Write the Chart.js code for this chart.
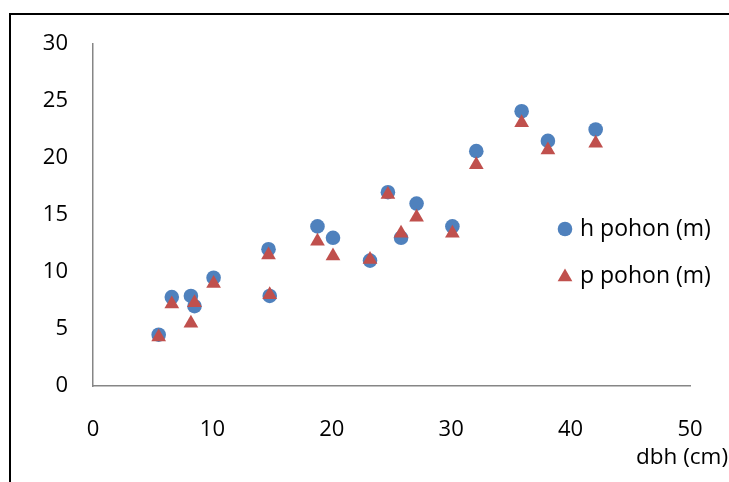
<!DOCTYPE html>
<html>
<head>
<meta charset="utf-8">
<script src="https://cdn.jsdelivr.net/npm/chart.js@4.4.0/dist/chart.umd.min.js"></script>
<style>
  html, body { margin: 0; padding: 0; background: #fff; }
  #wrap { position: relative; width: 729px; height: 482px; overflow: hidden; }
  canvas { display: block; }
</style>
</head>
<body>
<div id="wrap"><canvas id="c" width="729" height="482"></canvas></div>
<script>
// Data
const dbh    = [5.5, 6.6, 8.2, 8.5, 10.1, 14.7, 14.8, 18.8, 20.1, 23.2, 24.7, 25.8, 27.1, 30.1, 32.1, 35.9, 38.1, 42.1];
const hPohon = [4.5, 7.8, 7.9, 7.0, 9.5, 12.0, 7.9, 14.0, 13.0, 11.0, 17.0, 13.0, 16.0, 14.0, 20.6, 24.1, 21.5, 22.5];
const pPohon = [4.3, 7.2, 5.5, 7.3, 9.0, 11.5, 8.0, 12.7, 11.4, 11.1, 16.8, 13.4, 14.8, 13.4, 19.4, 23.1, 20.7, 21.3];
const seriesNames = ['h pohon (m)', 'p pohon (m)'];
const xTitle = 'dbh (cm)';
const xTicks = [0, 10, 20, 30, 40, 50];
const yTicks = [0, 5, 10, 15, 20, 25, 30];

const FONT = "'Open Sans', 'DejaVu Sans', sans-serif";
const BLUE = '#4F81BD';
const RED = '#C0504D';
const AXIS = '#868686';

const toPts = (xs, ys) => xs.map((x, i) => ({ x: x, y: ys[i] }));

const framePlugin = {
  id: 'frame',
  beforeDraw(chart) {
    const ctx = chart.ctx;
    ctx.save();
    ctx.fillStyle = '#fff';
    ctx.fillRect(0, 0, chart.width, chart.height);
    ctx.strokeStyle = '#000';
    ctx.lineWidth = 2;
    ctx.beginPath();
    ctx.moveTo(10, chart.height + 2);
    ctx.lineTo(10, 14);
    ctx.lineTo(chart.width + 2, 14);
    ctx.stroke();
    ctx.restore();
  }
};

const legendPlugin = {
  id: 'customLegend',
  afterDraw(chart) {
    const ctx = chart.ctx;
    ctx.save();
    const items = [
      { text: seriesNames[0], style: 'circle', color: BLUE, r: 7.3, y: 229 },
      { text: seriesNames[1], style: 'triangle', color: RED, r: 8.5, y: 276 }
    ];
    items.forEach(it => {
      ctx.fillStyle = it.color;
      ctx.strokeStyle = it.color;
      Chart.helpers.drawPoint(ctx, { pointStyle: it.style, radius: it.r, borderWidth: 0 }, 565, it.style === 'triangle' ? it.y + 1 : it.y);
      ctx.fillStyle = '#000';
      ctx.font = '23px ' + FONT;
      ctx.textBaseline = 'middle';
      ctx.textAlign = 'left';
      ctx.fillText(it.text, 580, it.y);
    });
    // x axis title
    ctx.font = '22.5px ' + FONT;
    ctx.fillText(xTitle, 636, 458);
    ctx.restore();
  }
};

new Chart(document.getElementById('c'), {
  type: 'scatter',
  data: {
    datasets: [
      {
        label: seriesNames[0],
        data: toPts(dbh, hPohon),
        pointStyle: 'circle',
        pointRadius: 7.3,
        pointHoverRadius: 7.3,
        backgroundColor: BLUE,
        borderColor: BLUE,
        borderWidth: 0,
        order: 1
      },
      {
        label: seriesNames[1],
        data: toPts(dbh, pPohon),
        pointStyle: 'triangle',
        pointRadius: 8.5,
        pointHoverRadius: 8.5,
        backgroundColor: RED,
        borderColor: RED,
        borderWidth: 0,
        order: 0
      }
    ]
  },
  options: {
    responsive: false,
    animation: false,
    devicePixelRatio: 1,
    layout: { padding: { left: 0, right: 39, top: 44, bottom: 0 } },
    plugins: {
      legend: { display: false },
      tooltip: { enabled: false }
    },
    scales: {
      x: {
        type: 'linear',
        min: 0, max: 50,
        afterBuildTicks(scale) { scale.ticks = xTicks.map(v => ({ value: v })); },
        afterFit(scale) { scale.height = 96; scale.paddingRight = 0; scale.paddingLeft = 0; },
        grid: { display: false, drawTicks: false },
        border: { display: true, color: AXIS, width: 1.5 },
        ticks: { color: '#000', font: { family: FONT, size: 22 }, padding: 31, maxRotation: 0 }
      },
      y: {
        type: 'linear',
        min: 0, max: 30,
        afterBuildTicks(scale) { scale.ticks = yTicks.map(v => ({ value: v })); },
        afterFit(scale) { scale.width = 93; },
        grid: { display: false, drawTicks: false },
        border: { display: true, color: AXIS, width: 1.5 },
        ticks: { color: '#000', font: { family: FONT, size: 22 }, padding: 25 }
      }
    }
  },
  plugins: [framePlugin, legendPlugin]
});
</script>
</body>
</html>
